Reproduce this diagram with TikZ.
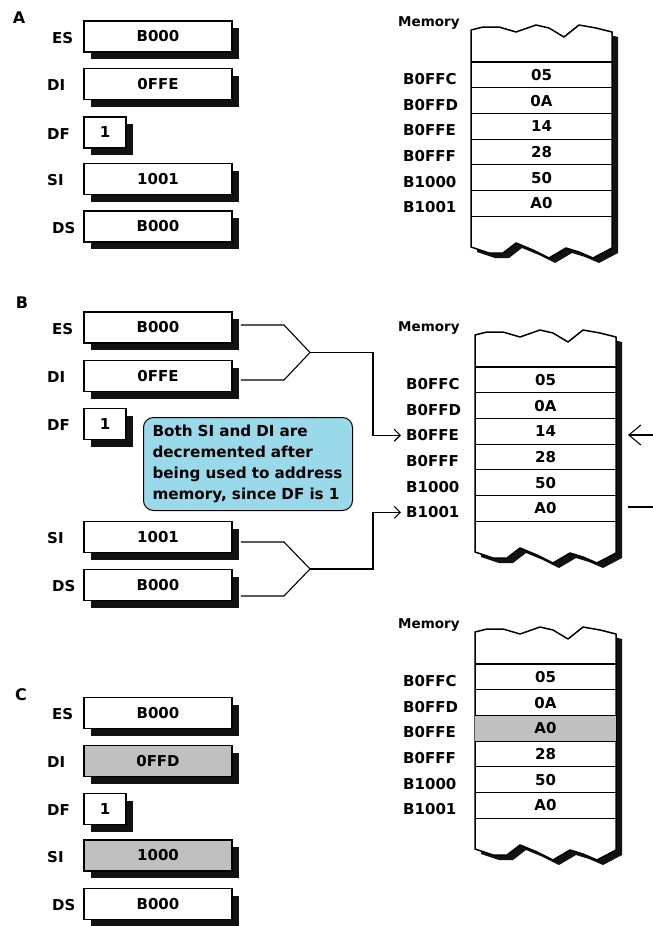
\documentclass[tikz,border=0pt]{standalone}
\usepackage{fontspec}
\setmainfont{DejaVu Sans}
\usetikzlibrary{shadows,arrows.meta}
\definecolor{regshade}{RGB}{192,192,192}
\definecolor{notefill}{RGB}{153,217,234}
\definecolor{shadowc}{RGB}{18,18,18}
\newcommand\regfont{\fontsize{15}{18}\selectfont\bfseries}
\newcommand\memfont{\fontsize{13.5}{16}\selectfont\bfseries}
\newcommand\notefont{\fontsize{15.2}{21}\selectfont\bfseries}
\tikzset{
  regbox/.style={draw, line width=1.8pt, fill=white, minimum width=148pt, minimum height=31pt,
    inner sep=0pt, font=\regfont,
    drop shadow={shadow xshift=7pt, shadow yshift=-7pt, fill=shadowc, opacity=1}},
  flagbox/.style={regbox, minimum width=42pt},
  greybox/.style={regbox, fill=regshade},
  reglabel/.style={anchor=west, inner sep=0pt, font=\regfont},
  seclabel/.style={inner sep=0pt, font=\fontsize{16}{18}\selectfont\bfseries},
  memlabel/.style={anchor=west, inner sep=0pt, font=\memfont},
  memval/.style={inner sep=0pt, minimum width=141pt, minimum height=25.7pt, font=\regfont},
  memaddr/.style={anchor=west, inner sep=0pt, font=\regfont},
  conn/.style={line width=1.1pt},
  arrowL/.style={-{Straight Barb[length=6pt,width=12pt]}, shorten >=5pt},
  arrowR/.style={-{Straight Barb[length=12pt,width=20pt]}},
  note/.style={draw, line width=1pt, fill=notefill, rounded corners=10pt, anchor=north west,
    minimum width=209pt, minimum height=93pt, text width=191pt, inner xsep=9pt, inner ysep=0pt,
    align=left, font=\notefont}
}
% #1 left x, #2 y of first row line, #3 prefix, #4 address x offset, #5 value/address list, #6 highlighted row
\newcommand\memblock[6]{%
  \begin{scope}[shift={(#1,#2)}]
    \fill[shadowc, shift={(6,5)}]
      (0,-32) -- (12,-35) -- (28,-35) -- (45,-30) -- (65,-37) -- (78,-34) -- (93,-25)
      -- (108,-37) -- (125,-34) -- (141,-30) -- (141,186) -- (122,196) -- (108,190)
      -- (95,186) -- (78,196) -- (62,188) -- (45,181) -- (32,191) -- (18,191) -- (0,185) -- cycle;
    \filldraw[fill=white, draw=black, line width=1.5pt, line join=round]
      (0,-32) -- (12,-35) -- (28,-35) -- (45,-30) -- (65,-37) -- (78,-34) -- (93,-25)
      -- (108,-37) -- (125,-34) -- (141,-30) -- (141,186) -- (122,196) -- (108,190)
      -- (95,186) -- (78,196) -- (62,188) -- (45,181) -- (32,191) -- (18,191) -- (0,185) -- cycle;
    \ifnum#6>0 \fill[regshade] (0,{(#6-1)*25.7}) rectangle (141,{#6*25.7}); \fi
    \foreach \k in {0,...,6} { \draw[line width=1.2pt] (0,{\k*25.7}) -- (141,{\k*25.7}); }
    \foreach \v/\ad [count=\i] in {#5} {
      \node[memval] (#3v\i) at (70.5,{(\i-0.5)*25.7}) {\v};
      \node[memaddr] (#3a\i) at (#4,{(\i-0.5)*25.7+4}) {\ad};
    }
  \end{scope}}
\begin{document}
\begin{tikzpicture}[x=1pt,y=-1pt]
\useasboundingbox (0,0) rectangle (653,926);

% ---------------- A ----------------
\node[seclabel] (secA) at (19,18) {A};
\node[regbox]  (aES) at (158,36.5) {B000};
\node[regbox]  (aDI) at (158,84) {0FFE};
\node[flagbox] (aDF) at (105,132.5) {1};
\node[regbox]  (aSI) at (158,179) {1001};
\node[regbox]  (aDS) at (158,226.5) {B000};
\node[reglabel] (aESl) at (52,38) {ES};
\node[reglabel] (aDIl) at (47,85.5) {DI};
\node[reglabel] (aDFl) at (47,134) {DF};
\node[reglabel] (aSIl) at (47,180.5) {SI};
\node[reglabel] (aDSl) at (52,228) {DS};
\node[memlabel] (aMem) at (398,23) {Memory};
\memblock{471}{62}{A}{-68}{05/B0FFC,0A/B0FFD,14/B0FFE,28/B0FFF,50/B1000,A0/B1001}{0}

% ---------------- B ----------------
\node[seclabel] (secB) at (22,303) {B};
\node[regbox]  (bES) at (158,327.5) {B000};
\node[regbox]  (bDI) at (158,376) {0FFE};
\node[flagbox] (bDF) at (105,424) {1};
\node[regbox]  (bSI) at (158,537) {1001};
\node[regbox]  (bDS) at (158,585) {B000};
\node[reglabel] (bESl) at (52,329) {ES};
\node[reglabel] (bDIl) at (47,377.5) {DI};
\node[reglabel] (bDFl) at (47,425.5) {DF};
\node[reglabel] (bSIl) at (47,538.5) {SI};
\node[reglabel] (bDSl) at (52,586.5) {DS};
\node[note] (note) at (143,417) {Both SI and DI are\\decremented after\\being used to address\\memory, since DF is 1};
\node[memlabel] (bMem) at (398,328) {Memory};
\memblock{475}{367}{B}{-69}{05/B0FFC,0A/B0FFD,14/B0FFE,28/B0FFF,50/B1000,A0/B1001}{0}

\coordinate (bm1) at (310,352.5);
\coordinate (bm2) at (310,569);
\draw[conn] ([shift={(8,-2.5)}]bES.east) -- (284,325) -- (bm1);
\draw[conn] ([shift={(8,4)}]bDI.east) -- (284,380) -- (bm1);
\draw[conn] ([shift={(8,5)}]bSI.east) -- (284,542) -- (bm2);
\draw[conn] ([shift={(8,11)}]bDS.east) -- (284,596) -- (bm2);
\draw[conn,arrowL] (bm1) -- (373,352.5) |- (Ba3.west);
\draw[conn,arrowL] (bm2) -- (373,569) |- (Ba6.west);

\coordinate (rA) at (653,435);
\coordinate (rAtip) at (628,435);
\coordinate (rB) at (653,507);
\coordinate (rBend) at (628,507);
\draw[conn,arrowR] (rA) -- (rAtip);
\draw[conn] (rB) -- (rBend);

% ---------------- C ----------------
\node[seclabel] (secC) at (21,695) {C};
\node[regbox]  (cES) at (158,713) {B000};
\node[greybox] (cDI) at (158,761) {0FFD};
\node[flagbox] (cDF) at (105,809) {1};
\node[greybox] (cSI) at (158,855.5) {1000};
\node[regbox]  (cDS) at (158,904) {B000};
\node[reglabel] (cESl) at (52,714.5) {ES};
\node[reglabel] (cDIl) at (47,762.5) {DI};
\node[reglabel] (cDFl) at (47,810.5) {DF};
\node[reglabel] (cSIl) at (47,857) {SI};
\node[reglabel] (cDSl) at (52,905.5) {DS};
\node[memlabel] (cMem) at (398,625) {Memory};
\memblock{475}{664}{C}{-72}{05/B0FFC,0A/B0FFD,A0/B0FFE,28/B0FFF,50/B1000,A0/B1001}{3}
\end{tikzpicture}
\end{document}
